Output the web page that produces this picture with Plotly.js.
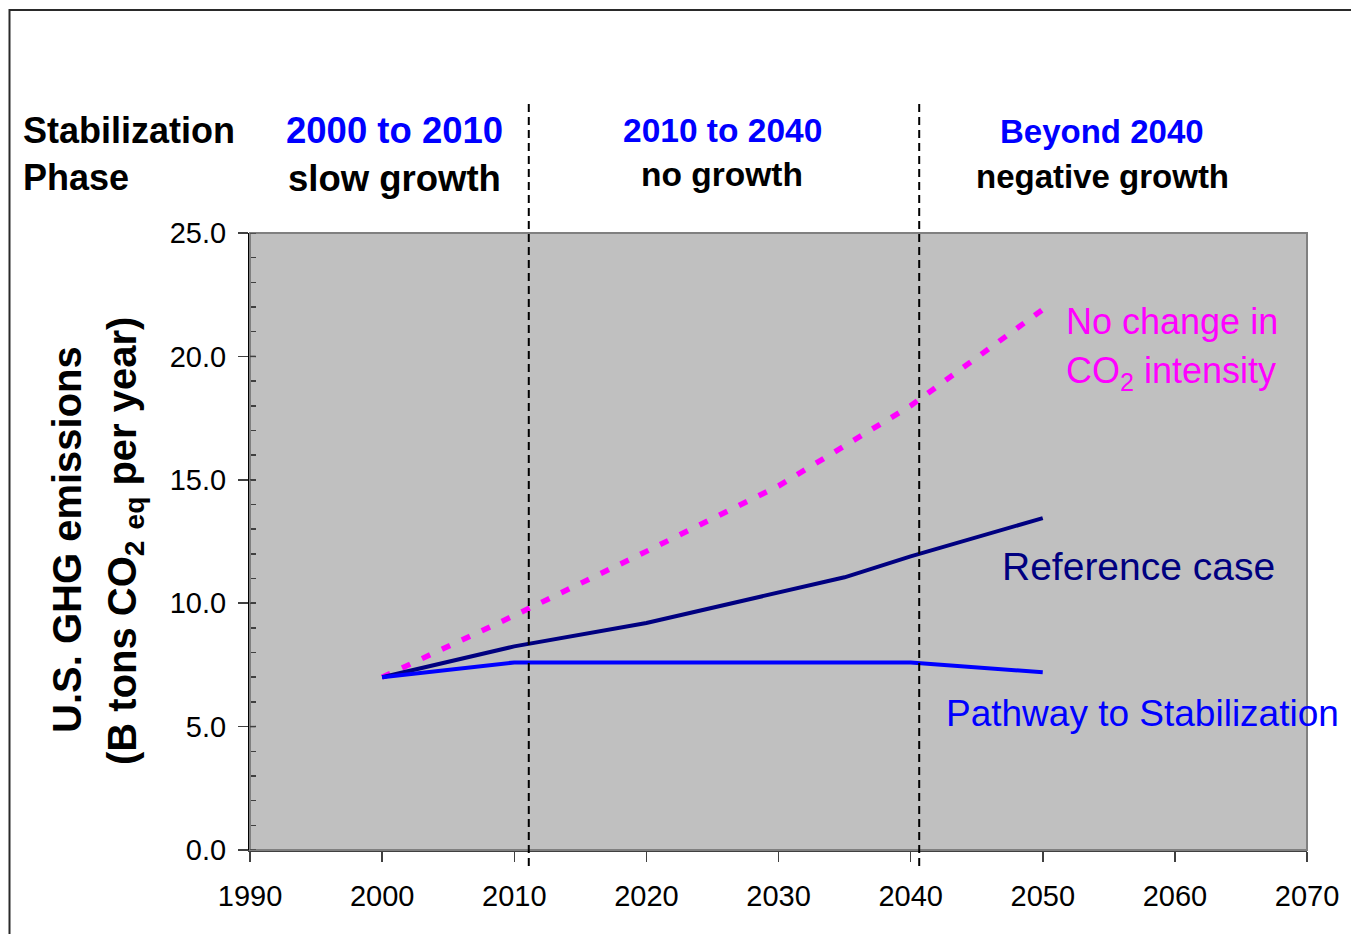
<!DOCTYPE html>
<html>
<head>
<meta charset="utf-8">
<script src="https://cdn.plot.ly/plotly-3.0.1.min.js"></script>
<style>
  html, body { margin: 0; padding: 0; background: #ffffff; }
  #chart { width: 1351px; height: 934px; }
</style>
</head>
<body>
<div id="chart"></div>
<script>
// U.S. greenhouse-gas emission scenarios, billion tons CO2-equivalent per year
const years = [2000, 2010, 2020, 2030, 2035, 2040, 2050];
const noChangeYears = [2000, 2010, 2020, 2030, 2040, 2050];
const noChangeIntensity = [7.0, 9.5, 12.1, 14.75, 18.0, 21.9];
const referenceCase = [7.0, 8.25, 9.2, 10.45, 11.05, 11.9, 13.45];
const pathwayYears = [2000, 2010, 2040, 2050];
const pathwayToStabilization = [7.0, 7.6, 7.6, 7.2];

// phase boundaries drawn as dashed verticals
const phaseBounds = [2011.1, 2040.65];

// axis ticks
const xTicks = [1990, 2000, 2010, 2020, 2030, 2040, 2050, 2060, 2070];
const yTicks = [0, 5, 10, 15, 20, 25];

// phase headings
const phaseTitles = ['2000 to 2010', '2010 to 2040', 'Beyond 2040'];
const phaseGrowth = ['slow growth', 'no growth', 'negative growth'];

const W = 1351, H = 934;
const M = { l: 250, r: 44, t: 233, b: 84 };
const PW = W - M.l - M.r, PH = H - M.t - M.b;
const px = x => (x - M.l) / PW;          // page pixel -> paper x
const py = y => (H - M.b - y) / PH;      // page pixel -> paper y

const FONT = 'Liberation Sans, Arial, Helvetica, sans-serif';
const BLUE = '#0000FF', NAVY = '#000080', MAGENTA = '#FF00FF';

const traces = [
  {
    x: noChangeYears, y: noChangeIntensity, type: 'scatter', mode: 'lines',
    line: { color: MAGENTA, width: 5.5, dash: '9px,13px' },
    hoverinfo: 'skip', showlegend: false
  },
  {
    x: years, y: referenceCase, type: 'scatter', mode: 'lines',
    line: { color: NAVY, width: 4 },
    hoverinfo: 'skip', showlegend: false
  },
  {
    x: pathwayYears, y: pathwayToStabilization, type: 'scatter', mode: 'lines',
    line: { color: BLUE, width: 4 },
    hoverinfo: 'skip', showlegend: false
  }
];

const shapes = [
  // outer frame
  { type: 'rect', xref: 'paper', yref: 'paper', x0: px(9.5), x1: px(1400), y0: py(1000), y1: py(10),
    line: { color: '#2a2a2a', width: 2 }, fillcolor: 'rgba(0,0,0,0)', layer: 'below' },
  // plot area border
  { type: 'rect', xref: 'paper', yref: 'paper', x0: 0, x1: 1, y0: 0, y1: 1,
    line: { color: '#808080', width: 2 }, fillcolor: 'rgba(0,0,0,0)', layer: 'above' }
];
// inner halves of the major y ticks (they cross the axis line)
yTicks.forEach(v => shapes.push({
  type: 'line', xref: 'paper', yref: 'y', x0: 0, x1: 6 / PW, y0: v, y1: v,
  line: { color: '#404040', width: 1.5 }, layer: 'above'
}));
phaseBounds.forEach(b => shapes.push({
  type: 'line', xref: 'x', yref: 'paper', x0: b, x1: b, y0: py(866), y1: py(104),
  line: { color: '#000000', width: 2, dash: '8px,5px' }, layer: 'above'
}));

const annotations = [];
function label(text, x, y, opts) {
  annotations.push(Object.assign({
    text: text, xref: 'paper', yref: 'paper', x: px(x), y: py(y),
    xanchor: 'center', yanchor: 'middle', showarrow: false,
    font: { family: FONT, size: 36, color: '#000000' }
  }, opts || {}));
}

label('<b>Stabilization</b>', 21, 131, { xanchor: 'left', font: { family: FONT, size: 36, color: '#000000' } });
label('<b>Phase</b>', 21, 177, { xanchor: 'left', font: { family: FONT, size: 36, color: '#000000' } });

const headX = [394, 722, 1102];
const headY = [[131, 179], [130, 174], [132, 176]];
const headSize = [36.5, 33.5, 33];
phaseTitles.forEach((t, i) => {
  label('<b>' + t + '</b>', headX[i], headY[i][0], { font: { family: FONT, size: headSize[i], color: BLUE } });
  label('<b>' + phaseGrowth[i] + '</b>', headX[i], headY[i][1], { font: { family: FONT, size: headSize[i], color: '#000000' } });
});

label('No change in', 1064, 321, { xanchor: 'left', font: { family: FONT, size: 36, color: MAGENTA } });
label('CO<sub>2</sub> intensity', 1064, 373, { xanchor: 'left', font: { family: FONT, size: 36, color: MAGENTA } });
label('Reference case', 1000, 566, { xanchor: 'left', font: { family: FONT, size: 39, color: NAVY } });
label('Pathway to Stabilization', 944, 713, { xanchor: 'left', font: { family: FONT, size: 37, color: BLUE } });

label('<b>U.S. GHG emissions</b>', 67, 540, { textangle: -90, font: { family: FONT, size: 40, color: '#000000' } });
label('<b>(B tons CO<sub>2</sub> <sub>eq</sub> per year)</b>', 125, 541, { textangle: -90, font: { family: FONT, size: 40, color: '#000000' } });

const layout = {
  width: W, height: H,
  margin: M,
  paper_bgcolor: '#ffffff',
  plot_bgcolor: '#C0C0C0',
  showlegend: false,
  xaxis: {
    range: [1990, 2070], tickvals: xTicks, ticktext: xTicks.map(String),
    ticks: 'outside', ticklen: 10, tickwidth: 1.5, tickcolor: '#404040',
    showline: true, linecolor: '#404040', linewidth: 2,
    showgrid: false, zeroline: false, ticklabelstandoff: 9,
    tickfont: { family: FONT, size: 29, color: '#000000' }
  },
  yaxis: {
    range: [0, 25], tickvals: yTicks, ticktext: yTicks.map(v => v.toFixed(1)),
    ticks: 'outside', ticklen: 10, tickwidth: 1.5, tickcolor: '#404040',
    showline: true, linecolor: '#000000', linewidth: 2,
    showgrid: false, zeroline: false, ticklabelstandoff: 6,
    tickfont: { family: FONT, size: 29, color: '#000000' },
    minor: { dtick: 1, tick0: 0, ticks: 'inside', ticklen: 6, tickwidth: 1.5, tickcolor: '#404040', showgrid: false }
  },
  shapes: shapes,
  annotations: annotations
};

Plotly.newPlot('chart', traces, layout, { staticPlot: true, displayModeBar: false });
</script>
</body>
</html>
